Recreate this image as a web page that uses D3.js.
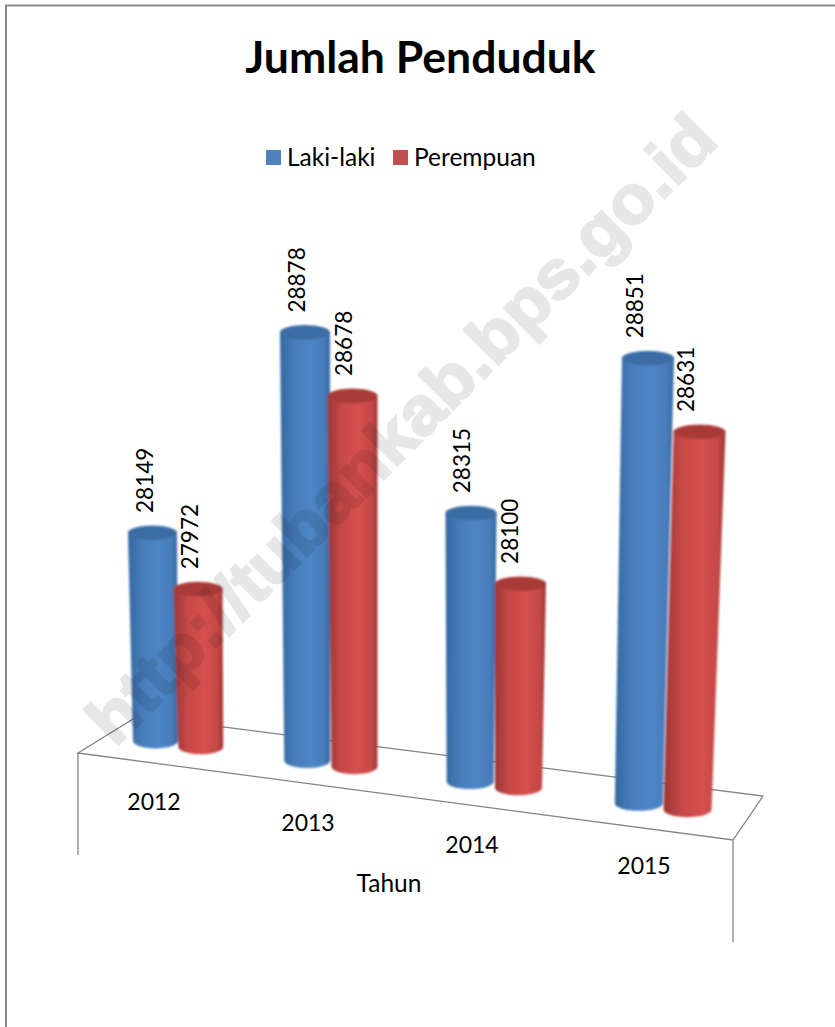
<!DOCTYPE html>
<html><head><meta charset="utf-8">
<script src="https://cdn.jsdelivr.net/npm/d3@7"></script>
<style>html,body{margin:0;padding:0;background:#fff}svg{display:block}text{font-family:Lato,"Open Sans",sans-serif;fill:#000}</style>
</head><body><div id="chart"></div>
<script>
const categories = ["2012","2013","2014","2015"];
const seriesNames = ["Laki-laki","Perempuan"];
const lakiLaki = [28149,28878,28315,28851];
const perempuan = [27972,28678,28100,28631];
const seriesValues = [lakiLaki, perempuan];
const titleText = "Jumlah Penduduk";
const axisTitle = "Tahun";
const watermarkText = "http://tubankab.bps.go.id";

const W = 835, H = 1027;
const svg = d3.select("#chart").append("svg").attr("width",W).attr("height",H);
const defs = svg.append("defs");
defs.append("filter").attr("id","soft").append("feGaussianBlur").attr("stdDeviation",0.8);
const palette = [
 {edge:"#34689f",mid:"#4f85c6",top:"#3a6ca3",legend:"#4f81bd"},
 {edge:"#9c3634",mid:"#d5504e",top:"#a83b39",legend:"#c0504d"}];
palette.forEach((p,i)=>{
  const g = defs.append("linearGradient").attr("id","g"+i);
  [[0,p.edge],[.3,d3.interpolateRgb(p.edge,p.mid)(.75)],[.62,p.mid],[.88,d3.interpolateRgb(p.edge,p.mid)(.7)],[1,p.edge]]
   .forEach(s=>g.append("stop").attr("offset",s[0]).attr("stop-color",s[1]));
});

// projection of the 3-D floor
const idx = d3.scaleLinear().domain([0,1,2,3]).range([152.5,305,471,648]);
const seriesGap = d3.scaleLinear().domain([0,3]).range([45,51]);
const barHalf = d3.scaleLinear().domain([0,3]).range([24.5,26]);
const lean = d3.scaleLinear().domain([150,350,520,700]).range([3,2,-2,-12]);
const floorY = d3.scaleLinear().domain([156,636]).range([741,803]);
const yH = d3.scaleLinear().domain([27460,28878]).range([0,428]);
const depth = d3.scaleLinear().domain([0,1,2,3]).range([1,1,1.04,1.06]);
const seriesRise = d3.scaleOrdinal().domain([0,1]).range([0,3]);
const labelDx = d3.scaleLinear().domain([150,350,520,700]).range([0,0,-2,-6]);

svg.append("path").attr("d",`M6,${H}V5.5H${W}`).attr("fill","none").attr("stroke","#8c8c8c").attr("stroke-width",2);
svg.append("path").attr("d","M78,753L138,716L763,796L733,840Z M78,753V855 M733,840V942")
  .attr("fill","none").attr("stroke","#848484").attr("stroke-width",1.3);

const plot = svg.append("g").attr("filter","url(#soft)");
const bars = [];
categories.forEach((c,i)=>seriesValues.forEach((vals,s)=>{
  const topX = idx(i)+s*seriesGap(i)+ (s? .5:0);
  const botX = topX+lean(topX);
  const botY = floorY(botX);
  const h = yH(vals[i])*depth(i)+seriesRise(s);
  bars.push({c,i,s,v:vals[i],topX,botX,botY,topY:botY-h,half:barHalf(i)});
}));
const gBars = plot.selectAll("g.bar").data(bars).join("g").attr("class","bar");
gBars.append("path").attr("fill",d=>`url(#g${d.s})`).attr("d",d=>{
  const tr=d.half, br=d.half-2, ry=7.5;
  return `M${d.topX-tr},${d.topY}L${d.botX-br},${d.botY}A${br},${ry} 0 0 0 ${d.botX+br},${d.botY}L${d.topX+tr},${d.topY}A${tr},${ry} 0 0 0 ${d.topX-tr},${d.topY}Z`;
});
gBars.append("ellipse").attr("cx",d=>d.topX).attr("cy",d=>d.topY).attr("rx",d=>d.half).attr("ry",7)
  .attr("fill",d=>palette[d.s].top);

// data labels
svg.selectAll("text.val").data(bars).join("text").attr("class","val")
  .attr("transform",d=>`translate(${d.topX+labelDx(d.topX)},${d.topY-20}) rotate(-90)`)
  .attr("font-size",22.5).text(d=>d.v);

// category labels
const catX = d3.scaleLinear().domain([0,1,2,3]).range([154,308,472,644]);
const catY = d3.scaleLinear().domain([0,3]).range([810,874]);
svg.selectAll("text.cat").data(categories).join("text").attr("class","cat")
  .attr("x",(d,i)=>catX(i)).attr("y",(d,i)=>catY(i)).attr("text-anchor","middle").attr("font-size",23).text(d=>d);
svg.append("text").attr("x",389).attr("y",892).attr("text-anchor","middle").attr("font-size",24.5).text(axisTitle);

// title + legend
svg.append("text").attr("x",420.5).attr("y",73).attr("text-anchor","middle").attr("font-size",44.5).attr("font-weight",700).text(titleText);
const legendX = d3.scaleOrdinal().domain(seriesNames).range([266,393]);
const lg = svg.selectAll("g.lg").data(seriesNames).join("g").attr("class","lg").attr("transform",d=>`translate(${legendX(d)},150)`);
lg.append("rect").attr("width",15).attr("height",15).attr("fill",(d,i)=>palette[i].legend);
lg.append("text").attr("x",21).attr("y",16).attr("font-size",24.5).text(d=>d);

// watermark
svg.append("text").attr("transform","translate(115,748) rotate(-45)")
  .style("font-family","'Liberation Sans',sans-serif").style("fill","#000").style("stroke","#000").style("stroke-width",2.5).style("opacity",.09)
  .attr("font-size",68).attr("font-weight",700).attr("textLength",856).attr("lengthAdjust","spacingAndGlyphs").text(watermarkText);
</script></body></html>
